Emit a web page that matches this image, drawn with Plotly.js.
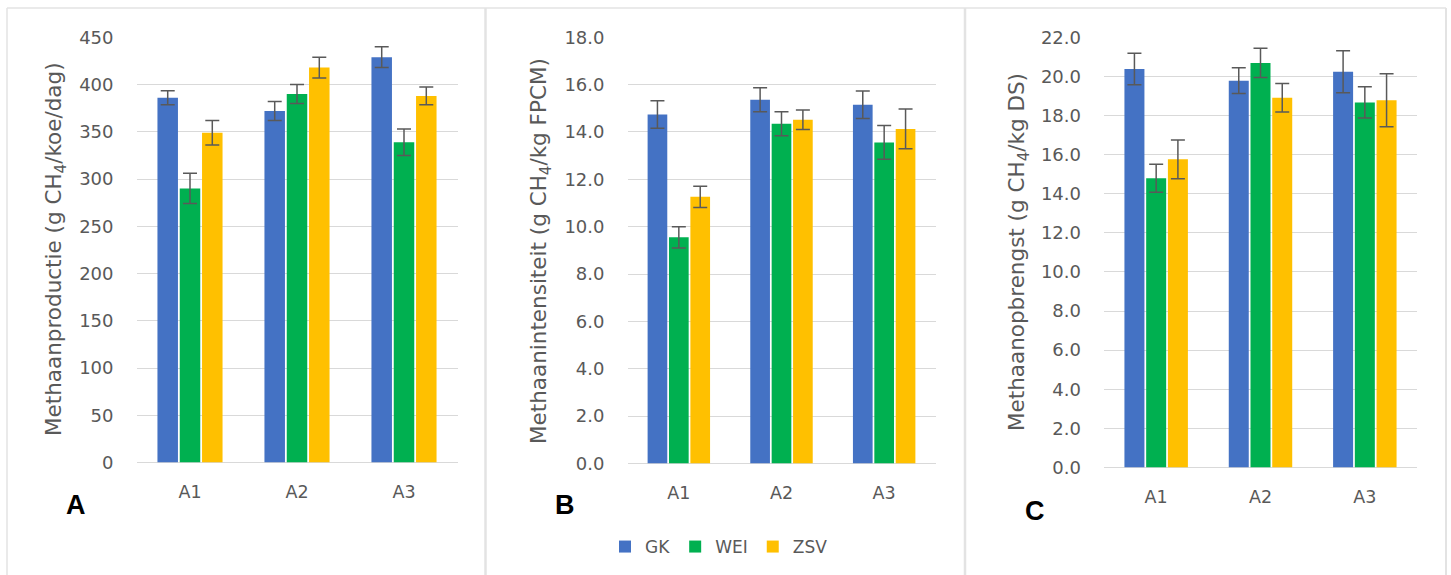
<!DOCTYPE html>
<html>
<head>
<meta charset="utf-8">
<script src="https://cdn.plot.ly/plotly-3.0.1.min.js"></script>
<style>
html,body{margin:0;padding:0;background:#fff;}
#chart{width:1451px;height:575px;}
</style>
</head>
<body>
<div id="chart"></div>
<script>
// ---- Data ----
const categories = ["A1", "A2", "A3"];
const seriesNames = ["GK", "WEI", "ZSV"];

// Panel A: Methaanproductie (g CH4/koe/dag)
const prodGK  = [386, 372, 429];
const prodWEI = [290, 390, 339];
const prodZSV = [349, 418, 388];
const prodErrGK  = [7.5, 10, 11];
const prodErrWEI = [16, 10, 14];
const prodErrZSV = [13, 11, 9.5];

// Panel B: Methaanintensiteit (g CH4/kg FPCM)
const intGK  = [14.74, 15.36, 15.15];
const intWEI = [9.55, 14.35, 13.56];
const intZSV = [11.26, 14.52, 14.13];
const intErrGK  = [0.58, 0.51, 0.58];
const intErrWEI = [0.45, 0.51, 0.71];
const intErrZSV = [0.45, 0.41, 0.84];

// Panel C: Methaanopbrengst (g CH4/kg DS)
const yldGK  = [20.38, 19.78, 20.24];
const yldWEI = [14.79, 20.69, 18.67];
const yldZSV = [15.76, 18.91, 18.78];
const yldErrGK  = [0.81, 0.66, 1.07];
const yldErrWEI = [0.72, 0.75, 0.80];
const yldErrZSV = [0.99, 0.73, 1.35];

const yTitles = [
  "Methaanproductie (g CH<sub>4</sub>/koe/dag)",
  "Methaanintensiteit (g CH<sub>4</sub>/kg FPCM)",
  "Methaanopbrengst (g CH<sub>4</sub>/kg DS)"
];
const panelLetters = ["A", "B", "C"];

// ---- Styling ----
const colors = ["#4472C4", "#00B050", "#FFC000"];
const W = 1451, H = 575;
const px = v => v / W;
const py = v => 1 - v / H;
const grey = "#595959";
const font = "'DejaVu Sans', 'Open Sans', sans-serif";

const panels = [
  {vals: [prodGK, prodWEI, prodZSV], errs: [prodErrGK, prodErrWEI, prodErrZSV], xa: "x", ya: "y"},
  {vals: [intGK, intWEI, intZSV], errs: [intErrGK, intErrWEI, intErrZSV], xa: "x2", ya: "y2"},
  {vals: [yldGK, yldWEI, yldZSV], errs: [yldErrGK, yldErrWEI, yldErrZSV], xa: "x3", ya: "y3"}
];

const traces = [];
panels.forEach((p, pi) => {
  seriesNames.forEach((name, si) => {
    traces.push({
      type: "bar",
      name: name,
      x: categories,
      y: p.vals[si],
      xaxis: p.xa,
      yaxis: p.ya,
      legendgroup: name,
      showlegend: pi === 0,
      marker: {color: colors[si], line: {width: 0}},
      error_y: {type: "data", array: p.errs[si], visible: true, color: "#595959", thickness: 1.5, width: 7},
      hoverinfo: "x+y+name"
    });
  });
});

const xCommon = {
  showgrid: false, zeroline: false, showline: false, ticks: "",
  tickfont: {family: font, size: 17.5, color: grey},
  ticklabelstandoff: 17, fixedrange: true
};
const yCommon = {
  showgrid: true, gridcolor: "#d9d9d9", gridwidth: 1,
  zeroline: true, zerolinecolor: "#d9d9d9", zerolinewidth: 1,
  showline: false, ticks: "",
  tickfont: {family: font, size: 18, color: grey},
  ticklabelstandoff: 22, fixedrange: true
};

const layout = {
  width: W, height: H,
  margin: {l: 0, r: 0, t: 0, b: 0},
  paper_bgcolor: "#ffffff", plot_bgcolor: "#ffffff",
  barmode: "group", bargap: 0.375, bargroupgap: 0.08,
  showlegend: true,
  legend: {
    orientation: "h", x: px(719), xanchor: "center", y: py(547), yanchor: "middle",
    font: {family: font, size: 17, color: grey}, itemwidth: 30, tracegroupgap: 0,
    bgcolor: "rgba(0,0,0,0)"
  },
  xaxis:  Object.assign({}, xCommon, {domain: [px(136.5), px(457.5)], anchor: "y"}),
  xaxis2: Object.assign({}, xCommon, {domain: [px(627.5), px(935.5)], anchor: "y2"}),
  xaxis3: Object.assign({}, xCommon, {domain: [px(1104), px(1417)], anchor: "y3"}),
  yaxis:  Object.assign({}, yCommon, {domain: [py(462.5), py(37.3)], anchor: "x", range: [0, 450], dtick: 50, tickformat: "d"}),
  yaxis2: Object.assign({}, yCommon, {domain: [py(463.4), py(37.3)], anchor: "x2", range: [0, 18], dtick: 2, tickformat: ".1f"}),
  yaxis3: Object.assign({}, yCommon, {domain: [py(467.4), py(37.3)], anchor: "x3", range: [0, 22], dtick: 2, tickformat: ".1f"}),
  shapes: [
    {type: "line", xref: "paper", yref: "paper", x0: px(7), x1: px(1446), y0: py(8), y1: py(8), line: {color: "#e3e3e3", width: 1.5}},
    {type: "line", xref: "paper", yref: "paper", x0: px(7), x1: px(7), y0: py(8), y1: py(575), line: {color: "#e3e3e3", width: 1.5}},
    {type: "line", xref: "paper", yref: "paper", x0: px(485.5), x1: px(485.5), y0: py(8), y1: py(575), line: {color: "#e3e3e3", width: 2.5}},
    {type: "line", xref: "paper", yref: "paper", x0: px(965), x1: px(965), y0: py(8), y1: py(575), line: {color: "#e3e3e3", width: 2.5}},
    {type: "line", xref: "paper", yref: "paper", x0: px(1446), x1: px(1446), y0: py(8), y1: py(575), line: {color: "#e3e3e3", width: 2}}
  ],
  annotations: [
    {text: yTitles[0], xref: "paper", yref: "paper", x: px(55), y: py(249), textangle: -90, showarrow: false, xanchor: "center", yanchor: "middle", font: {family: font, size: 21.5, color: grey}},
    {text: yTitles[1], xref: "paper", yref: "paper", x: px(540), y: py(251), textangle: -90, showarrow: false, xanchor: "center", yanchor: "middle", font: {family: font, size: 21.5, color: grey}},
    {text: yTitles[2], xref: "paper", yref: "paper", x: px(1018), y: py(252), textangle: -90, showarrow: false, xanchor: "center", yanchor: "middle", font: {family: font, size: 21.5, color: grey}},
    {text: "<b>" + panelLetters[0] + "</b>", xref: "paper", yref: "paper", x: px(76), y: py(505), showarrow: false, xanchor: "center", yanchor: "middle", font: {family: "'Liberation Sans', Arial, sans-serif", size: 27, color: "#000"}},
    {text: "<b>" + panelLetters[1] + "</b>", xref: "paper", yref: "paper", x: px(565), y: py(505), showarrow: false, xanchor: "center", yanchor: "middle", font: {family: "'Liberation Sans', Arial, sans-serif", size: 27, color: "#000"}},
    {text: "<b>" + panelLetters[2] + "</b>", xref: "paper", yref: "paper", x: px(1035), y: py(511), showarrow: false, xanchor: "center", yanchor: "middle", font: {family: "'Liberation Sans', Arial, sans-serif", size: 27, color: "#000"}}
  ]
};

Plotly.newPlot("chart", traces, layout, {displayModeBar: false});
</script>
</body>
</html>
